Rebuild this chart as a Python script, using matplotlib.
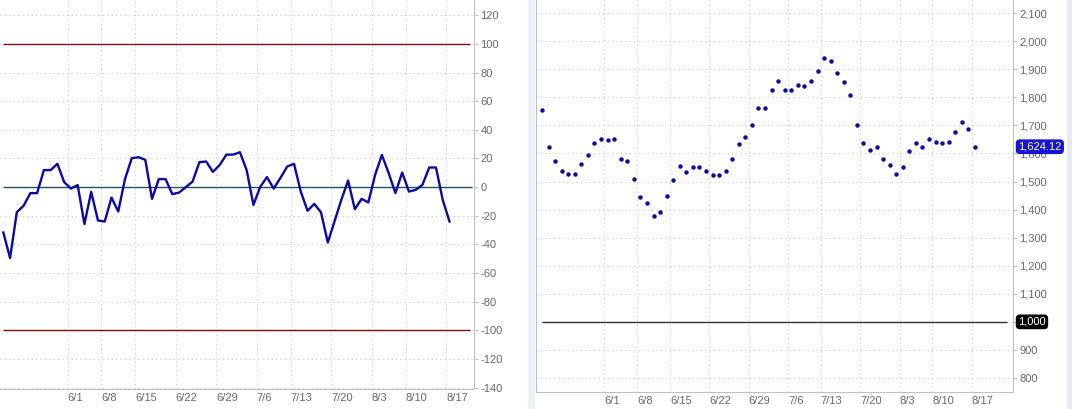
import matplotlib
matplotlib.use("Agg")
import matplotlib.pyplot as plt
from matplotlib.ticker import FuncFormatter

plt.rcParams["font.family"] = ["Liberation Sans", "DejaVu Sans"]

# oscillator (left panel), one value per trading day
osc = [-31.7, -49.5, -17.5, -13.0, -4.2, -4.2, 11.9, 11.9, 16.3, 3.5,
       -1.0, 1.4, -25.8, -3.3, -23.3, -24.0, -7.3, -17.0, 5.6, 20.2,
       20.9, 19.1, -8.2, 5.6, 5.6, -4.9, -3.8, 0.0, 3.9, 17.4,
       17.9, 10.7, 15.4, 22.7, 22.7, 24.4, 11.8, -12.4, 0.2, 7.0,
       -1.0, 6.5, 14.4, 16.3, -3.1, -16.5, -11.7, -17.7, -38.7, -23.8,
       -8.9, 4.6, -15.4, -8.2, -10.7, 8.6, 22.5, 9.8, -4.2, 10.2,
       -3.1, -1.9, 1.6, 13.7, 13.7, -8.9, -24.0]

# index level (right panel)
level = [1756, 1622, 1574, 1539, 1527, 1527, 1561, 1593, 1639, 1650,
         1647, 1650, 1582, 1574, 1510, 1445, 1425, 1379, 1393, 1448,
         1505, 1556, 1533, 1551, 1551, 1537, 1525, 1525, 1537, 1582,
         1633, 1659, 1702, 1761, 1761, 1827, 1858, 1827, 1827, 1844,
         1841, 1858, 1895, 1941, 1931, 1887, 1855, 1807, 1702, 1639,
         1613, 1624, 1582, 1558, 1527, 1551, 1610, 1636, 1624, 1650,
         1641, 1639, 1641, 1675, 1713, 1689, 1624.12]

date_labels = ["6/1", "6/8", "6/15", "6/22", "6/29", "7/6", "7/13", "7/20", "8/3", "8/10", "8/17"]
date_pos = [9.5, 14.5, 19.5, 25.5, 31.5, 37.5, 42.5, 48.5, 54.5, 59.5, 65.5]

osc_ticks = list(range(-140, 121, 20))
level_ticks = list(range(800, 2101, 100))
osc_bands = [100, -100]
level_ref = 1000

grid_c = "#c8c8c8"
spine_c = "#c0c0c0"
text_c = "#6a6a6a"
blue = "#0a0aa0"

fig = plt.figure(figsize=(10.72, 4.09), dpi=100)
fig.patch.set_facecolor("white")

# panel separators
fig.add_artist(plt.Rectangle((528 / 1072, 0), 6 / 1072, 1, transform=fig.transFigure,
                             color="#eef2f7", zorder=0))
fig.add_artist(plt.Rectangle((1067 / 1072, 0), 5 / 1072, 1, transform=fig.transFigure,
                             color="#e6ecf3", zorder=0))

ax1 = fig.add_axes([0.0, 20 / 409, 474.3 / 1072, 389 / 409])
ax2 = fig.add_axes([536 / 1072, 17 / 409, 477.3 / 1072, 392 / 409])

x1 = list(range(len(osc)))
x2 = list(range(len(level)))


def style(ax):
    ax.set_facecolor("none")
    for s in ["top", "left"]:
        ax.spines[s].set_visible(False)
    ax.spines["right"].set_color(spine_c)
    ax.spines["bottom"].set_color(spine_c)
    ax.yaxis.tick_right()
    ax.tick_params(axis="y", colors=spine_c, labelcolor=text_c, labelsize=8,
                   length=3, pad=1.5)
    ax.tick_params(axis="x", length=0, labelcolor=text_c, labelsize=8, pad=3)
    ax.set_xticks(date_pos)
    ax.set_xticklabels(date_labels, ha="left")
    ax.grid(True, linestyle=(0, (1, 3)), color=grid_c, linewidth=0.8)
    ax.set_axisbelow(True)


# left: oscillator line
style(ax1)
ax1.plot(x1, osc, color=blue, linewidth=1.7, zorder=4)
for b in osc_bands:
    ax1.hlines(b, 0, 69, color="#7a1010", linewidth=1.0, zorder=3)
ax1.hlines(0, 0, 69.3, color="#2a5060", linewidth=1.0, zorder=3)
ax1.set_yticks(osc_ticks)
ax1.yaxis.set_major_formatter(FuncFormatter(lambda v, p: f"{int(v)}"))
ax1.set_xlim(-0.49, 69.67)
ax1.set_ylim(-141, 130.7)

# right: index dots
style(ax2)
ax2.spines["left"].set_visible(True)
ax2.spines["left"].set_color(spine_c)
ax2.plot(x2, level, linestyle="none", marker="o", markersize=3.2,
         color=blue, markeredgewidth=0, zorder=4)
ax2.hlines(level_ref, 0, 70.9, color="#333333", linewidth=1.0, zorder=3)
ax2.set_yticks(level_ticks)
ax2.yaxis.set_major_formatter(FuncFormatter(lambda v, p: f"{int(v):,}"))
ax2.set_xlim(-0.91, 71.84)
ax2.set_ylim(750, 2147)

# last value and reference value flags
ax2.annotate(f"{level[-1]:,.2f}", xy=(1.0, level[-1]),
             xycoords=ax2.get_yaxis_transform(), xytext=(3.5, 0),
             textcoords="offset points", ha="left", va="center",
             fontsize=8, color="white", zorder=6, annotation_clip=False,
             bbox=dict(boxstyle="round,pad=0.15,rounding_size=0.3",
                       fc="#1414d2", ec="#1414d2"))
ax2.annotate(f"{level_ref:,}", xy=(1.0, level_ref),
             xycoords=ax2.get_yaxis_transform(), xytext=(3.5, 0),
             textcoords="offset points", ha="left", va="center",
             fontsize=8, color="white", zorder=6, annotation_clip=False,
             bbox=dict(boxstyle="round,pad=0.15,rounding_size=0.3",
                       fc="black", ec="black"))

fig.savefig("out.png", dpi=100, facecolor="white")
